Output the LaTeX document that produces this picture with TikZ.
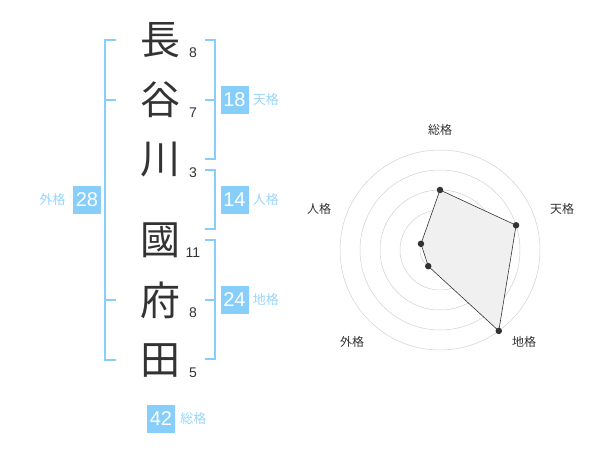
\documentclass[tikz,border=0pt]{standalone}
\usepackage{fontspec}
\setmainfont{Liberation Sans}
\newfontfamily\jp{Noto Sans CJK JP}
\usetikzlibrary{positioning}
\definecolor{kakublue}{HTML}{87CEFA}
\definecolor{ink}{HTML}{333333}
\tikzset{
    kanji/.style={font=\jp\fontsize{40}{40}\selectfont, text=ink, inner sep=0pt},
    strokes/.style={font=\fontsize{14}{14}\selectfont, text=ink, inner sep=0pt},
    kakubox/.style={fill=kakublue, text=white, minimum size=28pt, inner sep=0pt, font=\fontsize{20}{20}\selectfont},
    kakulabel/.style={text=kakublue!85, font=\jp\fontsize{13}{13}\selectfont, inner sep=0pt},
    bracket/.style={draw=kakublue, line width=2pt},
    ring/.style={draw=black!18, line width=0.5pt},
    axislabel/.style={text=ink, font=\jp\fontsize{12}{12}\selectfont, inner sep=0pt},
    dot/.style={circle, fill=ink, inner sep=0pt, minimum size=6.5pt},
}
\begin{document}
\begin{tikzpicture}[x=1pt,y=-1pt]
    \useasboundingbox (0,0) rectangle (600,470);

    % name
    \node[kanji] (c1) at (160,40) {長};
    \node[kanji] (c2) at (160,100) {谷};
    \node[kanji] (c3) at (160,160) {川};
    \node[kanji] (c4) at (160,240) {國};
    \node[kanji] (c5) at (160,300) {府};
    \node[kanji] (c6) at (160,360) {田};

    \node[strokes] (n1) at (193,53) {8};
    \node[strokes] (n2) at (193,113) {7};
    \node[strokes] (n3) at (193,173) {3};
    \node[strokes] (n4) at (193,253) {11};
    \node[strokes] (n5) at (193,313) {8};
    \node[strokes] (n6) at (193,373) {5};

    % brackets
    \draw[bracket] (116,40) -- (105,40) -- (105,360) -- (116,360);
    \draw[bracket] (105,100) -- (116,100);
    \draw[bracket] (105,300) -- (116,300);

    \draw[bracket] (205,40) -- (215,40) -- (215,159) -- (205,159);
    \draw[bracket] (205,100) -- (215,100);
    \draw[bracket] (205,170) -- (215,170) -- (215,229) -- (205,229);
    \draw[bracket] (205,240) -- (215,240) -- (215,359) -- (205,359);
    \draw[bracket] (205,300) -- (215,300);

    % scores
    \node[kakubox] (gai) at (87,200) {28};
    \node[kakulabel, left=7pt of gai] {外格};
    \node[kakubox] (ten) at (234.5,100) {18};
    \node[kakulabel, right=4pt of ten] {天格};
    \node[kakubox] (jin) at (234.5,200) {14};
    \node[kakulabel, right=4pt of jin] {人格};
    \node[kakubox] (chi) at (234.5,300) {24};
    \node[kakulabel, right=4pt of chi] {地格};
    \node[kakubox] (sou) at (161,419) {42};
    \node[kakulabel, right=5pt of sou] {総格};

    % radar
    \begin{scope}[shift={(440,250)}]
        \foreach \r in {20,40,...,100}
            \draw[ring] (0,0) circle[radius=\r pt];
        \fill[black!20] (0,0) circle[radius=4pt];

        \coordinate (rsou) at (90:60pt);
        \coordinate (rten) at (18:80pt);
        \coordinate (rchi) at (-54:100pt);
        \coordinate (rgai) at (-126:20pt);
        \coordinate (rjin) at (162:20pt);

        \draw[fill=black!6, draw=ink, line width=0.6pt] (rsou) -- (rten) -- (rchi) -- (rgai) -- (rjin) -- cycle;
        \foreach \p in {rsou,rten,rchi,rgai,rjin}
            \node[dot] at (\p) {};

        \node[axislabel] (lsou) at (0,-120) {総格};
        \node[axislabel] (lten) at (122,-41) {天格};
        \node[axislabel] (ljin) at (-121,-41) {人格};
        \node[axislabel] (lgai) at (-88,92) {外格};
        \node[axislabel] (lchi) at (84,92) {地格};
    \end{scope}
\end{tikzpicture}
\end{document}
